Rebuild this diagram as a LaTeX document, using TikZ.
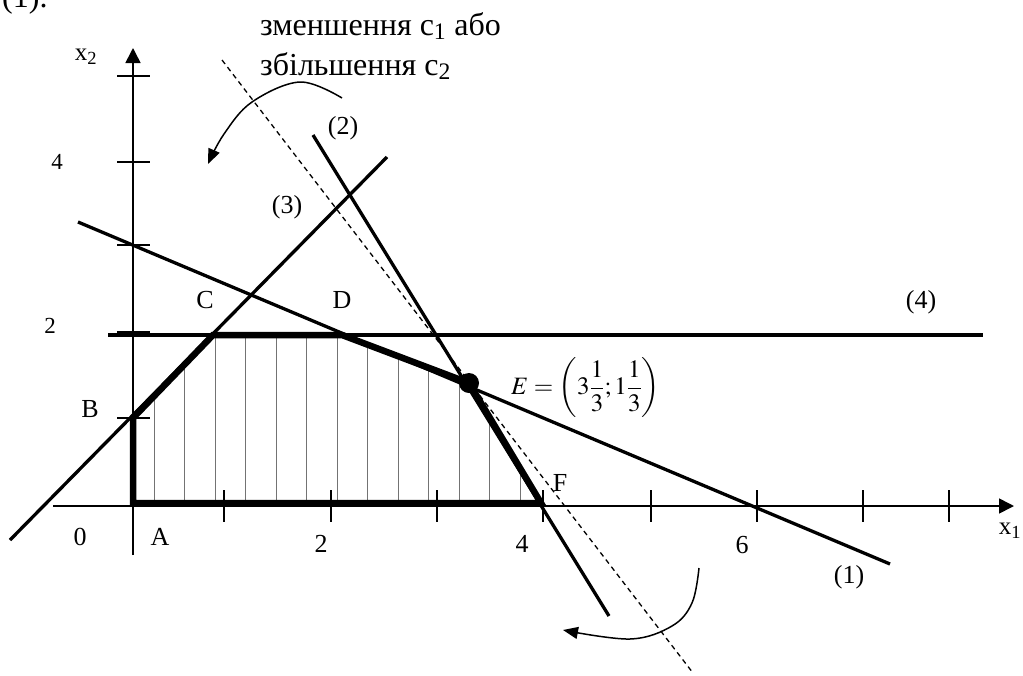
\documentclass[tikz,border=0pt]{standalone}
\usepackage{mathptmx}
\usepackage{fontspec}
\setmainfont{Liberation Serif}
\usetikzlibrary{arrows.meta}
\begin{document}
\begin{tikzpicture}[x=1pt,y=-1pt,
  axisline/.style={line width=1.6pt},
  tickmark/.style={line width=1.6pt},
  limline/.style={line width=3.3pt},
  boundline/.style={line width=6.5pt,line join=miter},
  hatchline/.style={line width=1pt,black!55},
  dashline/.style={line width=1.3pt,dash pattern=on 5pt off 4pt},
  curvearrow/.style={line width=1.5pt,-{Triangle[length=15pt,width=12pt]}},
  lbl/.style={font=\fontsize{26}{30}\selectfont,inner sep=0pt},
  digitlbl/.style={font=\fontsize{23}{27}\selectfont,inner sep=0pt},
  axislbl/.style={font=\fontsize{25}{29}\selectfont,inner sep=0pt},
  bigtxt/.style={font=\fontsize{32}{40}\selectfont,inner sep=0pt}]
\useasboundingbox (0,0) rectangle (1023,675);
% key points
\coordinate (O) at (133,505);
\coordinate (xs) at (53,506);
\coordinate (xe) at (1014,506);
\coordinate (ys) at (133,555);
\coordinate (ye) at (133,48);
\coordinate (A) at (133,503);
\coordinate (B) at (133,418);
\coordinate (C) at (213,335);
\coordinate (D) at (342,335);
\coordinate (E) at (469,383);
\coordinate (F) at (541,503);
% line ends
\coordinate (l1a) at (78,222);
\coordinate (l1b) at (890,564);
\coordinate (l2a) at (313,135);
\coordinate (l2b) at (609,616);
\coordinate (l3a) at (10,540);
\coordinate (l3b) at (387,157);
\coordinate (l4a) at (108,335);
\coordinate (l4b) at (983,335);
\coordinate (da) at (222,60);
\coordinate (db) at (693,673);
% hatching
\begin{scope}
  \clip (A) -- (B) -- (C) -- (D) -- (E) -- (F) -- cycle;
  \foreach \k in {0,...,12}
    \draw[hatchline] ({154+30.5*\k},300) -- ++(0,220);
\end{scope}
% axes
\draw[axisline,-{Triangle[length=15pt,width=15pt]}] (xs) -- (xe);
\draw[axisline,-{Triangle[length=15pt,width=15pt]}] (ys) -- (ye);
\foreach \y in {76,162,245,332,418}
  \draw[tickmark] (117,\y) -- (150,\y);
\foreach \x in {224,331,437,543,651,757,863,949}
  \draw[tickmark] (\x,490) -- (\x,522);
% constraint lines
\draw[limline] (l1a) -- (l1b);
\draw[limline] (l2a) -- (l2b);
\draw[limline] (l3a) -- (l3b);
\draw[limline] (l4a) -- (l4b);
\draw[dashline] (da) -- (db);
% feasible region boundary
\draw[boundline] (A) -- (B) -- (C) -- (D) -- (E) -- (F) -- cycle;
\fill (E) circle (10);
% curved arrows
\coordinate (t1) at (342,98);
\coordinate (t2) at (208,164);
\draw[curvearrow] plot[smooth,tension=0.6] coordinates {(t1) (300,82) (252,102) (224,134) (t2)};
\coordinate (b1) at (699,568);
\coordinate (b2) at (563,630);
\draw[curvearrow] plot[smooth,tension=0.6] coordinates {(b1) (692,603) (672,626) (630,639) (b2)};
% labels
\node[bigtxt,anchor=base west] (prev) at (2,7) {(1).};
\node[bigtxt,anchor=base west] (note1) at (260,35) {зменшення c\textsubscript{1} або};
\node[bigtxt,anchor=base west] (note2) at (260,75) {збільшення c\textsubscript{2}};
\node[axislbl] (lx2) at (86,57) {x\textsubscript{2}};
\node[axislbl] (lx1) at (1010,531) {x\textsubscript{1}};
\node[digitlbl] (ly4) at (57,162) {4};
\node[digitlbl] (ly2) at (50,326) {2};
\node[lbl] (lB) at (90,409) {B};
\node[lbl] (l0) at (80,537) {0};
\node[lbl] (lA) at (160,537) {A};
\node[lbl] (lx2n) at (321,544) {2};
\node[lbl] (lx4n) at (522,544) {4};
\node[lbl] (lx6n) at (742,545) {6};
\node[lbl] (lC) at (205,300) {C};
\node[lbl] (lD) at (342,300) {D};
\node[lbl] (lF) at (560,483) {F};
\node[lbl] (n1) at (849,577) {(1)};
\node[lbl] (n2) at (343,128) {(2)};
\node[lbl] (n3) at (287,207) {(3)};
\node[lbl] (n4) at (921,302) {(4)};
\node[font=\fontsize{25}{29}\selectfont,inner sep=0pt,anchor=west] (lE) at (511,388)
  {$\displaystyle E=\left(3\frac{1}{3};1\frac{1}{3}\right)$};
\end{tikzpicture}
\end{document}
